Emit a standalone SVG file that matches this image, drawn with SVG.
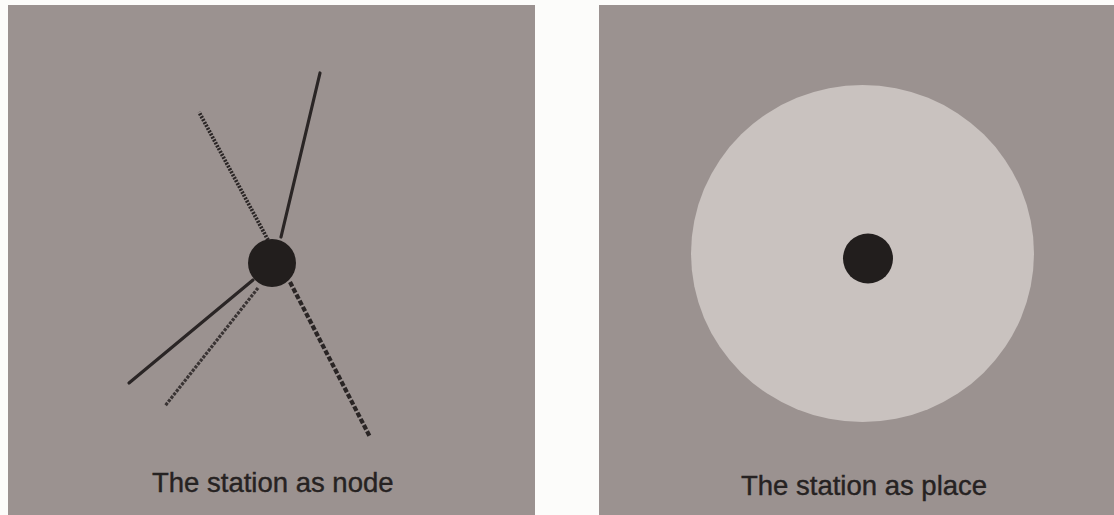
<svg xmlns="http://www.w3.org/2000/svg" width="1114" height="515" viewBox="0 0 1114 515">
  <style>
    .panel { fill: #9b9290; }
    .line { stroke: #2a2525; stroke-width: 3.2; stroke-linecap: round; fill: none; }
    .hatch { stroke-dasharray: 2 1.3; stroke-width: 3.8; stroke-linecap: butt; }
    .stipple { stroke: #3a3434; stroke-dasharray: 3 1.3; stroke-width: 3.2; stroke-linecap: butt; }
    .dash { stroke-dasharray: 5 2; stroke-width: 4.2; stroke-linecap: butt; }
    .dot { fill: #221e1d; }
    .caption { font-family: "Liberation Sans", Arial, sans-serif; font-size: 27.5px; fill: #262222; stroke: #262222; stroke-width: 0.4; }
  </style>
  <rect x="0" y="0" width="1114" height="515" fill="#fcfcfa"/>
  <g id="panel-node">
    <rect class="panel" x="8" y="5" width="527" height="510"/>
  </g>
  <g id="connectors">
    <line class="line" x1="281" y1="237" x2="320" y2="73"/>
    <line class="line hatch" x1="268" y1="240" x2="199" y2="112"/>
    <line class="line" x1="253" y1="280" x2="129" y2="383"/>
    <line class="line stipple" x1="258" y1="288" x2="165" y2="406"/>
    <line class="line dash" x1="290" y1="282" x2="370" y2="437"/>
  </g>
  <g id="station-node">
    <circle class="dot" cx="272" cy="263" r="24"/>
  </g>
  <g id="caption-node">
    <text class="caption" x="152" y="492">The station as node</text>
  </g>
  <g id="panel-place">
    <rect class="panel" x="599" y="5" width="515" height="510"/>
  </g>
  <g id="place-area">
    <ellipse cx="862.5" cy="253.5" rx="171.5" ry="168.5" fill="#c9c2bf"/>
  </g>
  <g id="station-place">
    <circle class="dot" cx="868" cy="258.5" r="25"/>
  </g>
  <g id="caption-place">
    <text class="caption" x="741" y="495">The station as place</text>
  </g>
</svg>
